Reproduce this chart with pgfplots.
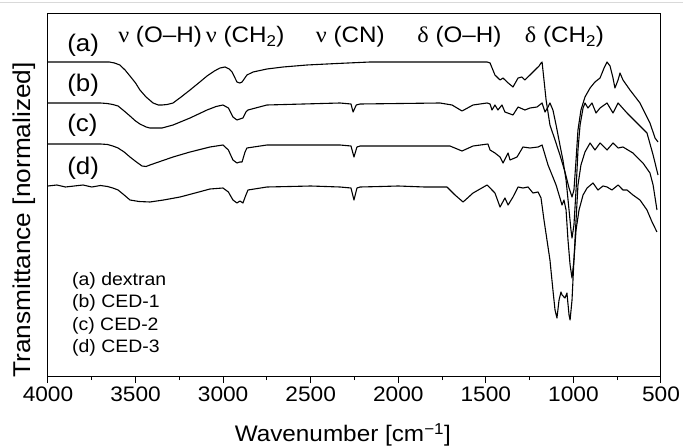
\documentclass[border=0pt]{standalone}
\usepackage{fontspec}
\setmainfont[FakeStretch=1.08]{Liberation Sans}
\newfontfamily\greek[FakeStretch=1.08]{Liberation Serif}
\usepackage{pgfplots}
\pgfplotsset{compat=1.18}
\tikzset{spec/.style={black, line width=1.1pt, line join=round}}
\begin{document}
\begin{tikzpicture}
\useasboundingbox (-48pt,-71pt) rectangle (635pt,376pt);
\draw[black!15, line width=1pt] (-48pt,373pt) -- (635pt,373pt);
\begin{axis}[
 at={(0,0)}, anchor=south west,
 width=613pt, height=362pt, scale only axis,
 xmin=500, xmax=4000, ymin=0, ymax=362,
 x dir=reverse,
 xtick={500,1000,...,4000},
 minor x tick num=1,
 ytick=\empty,
 xtick pos=bottom, tick align=outside,
 major tick length=7pt, minor tick length=4pt,
 every tick/.style={black, line width=1pt},
 axis line style={line width=1pt},
 /pgf/number format/assume math mode=true,
 /pgf/number format/1000 sep={},
 xticklabel style={font=\fontsize{21}{25}\selectfont},
 xlabel={Wavenumber [cm\textsuperscript{−1}]},
 xlabel style={font=\fontsize{22.5}{27}\selectfont, at={(axis description cs:0.481,-0.182)}, anchor=base},
 ylabel={Transmittance [normalized]},
 ylabel style={font=\fontsize{24.3}{28}\selectfont, at={(axis description cs:-0.039,0.431)}, anchor=center},
]
% (a) dextran
\addplot[spec] coordinates {
(4000,314) (3800,314) (3650,314) (3620,313) (3590,311) (3560,306) (3532,300)
(3500,293) (3475,286) (3440,279) (3400,273) (3370,271) (3349,271) (3320,271.5)
(3286,273) (3240,279) (3189,286) (3140,293) (3092,300) (3050,305) (3018,308)
(2989,309) (2965,307) (2949,304) (2921,294) (2904,293) (2892,294) (2864,301)
(2829,304) (2750,307) (2658,309) (2521,311) (2350,312.5) (2161,314)
(1762,314) (1493,314) (1476,313) (1448,301) (1419,296) (1402,298) (1379,294)
(1345,289) (1316,298) (1294,299) (1277,296) (1248,301) (1208,308) (1196,310)
(1185,313) (1179,314) (1168,296) (1156,276) (1134,251) (1105,236) (1077,221)
(1048,204) (1025,188) (1008,179) (997,186) (985,216) (974,246) (957,266)
(934,279) (905,288) (877,294) (848,298) (825,308) (808,314) (791,310)
(774,298) (763,288) (745,296) (734,303) (717,296) (677,286) (620,273)
(563,253) (534,238) (517,234)
};
% (b) CED-1
\addplot[spec] coordinates {
(4000,273) (3700,273) (3663,272.5) (3630,271.5) (3600,270) (3565,265)
(3532,260) (3500,255) (3475,252) (3440,249) (3418,248) (3349,248)
(3286,251) (3189,258) (3092,266) (3040,269.5) (3001,271) (2970,268) (2944,259)
(2921,256) (2905,257) (2887,258) (2870,264) (2858,266) (2750,271) (2333,273)
(2270,272) (2258,264) (2240,271) (2218,272)
(1762,273) (1693,271) (1636,265) (1573,271) (1493,273) (1476,272) (1465,266)
(1448,271) (1431,266) (1408,271) (1391,264) (1345,261) (1316,269) (1277,266)
(1248,268) (1208,269) (1179,273) (1162,264) (1145,269) (1134,273) (1117,266)
(1099,251) (1077,231) (1060,216) (1042,196) (1025,166) (1014,146) (1008,138)
(997,151) (985,186) (974,226) (962,251) (945,268) (934,273) (917,268)
(894,273) (871,263) (848,268) (808,273) (774,263) (745,273) (694,263)
(637,253) (580,243) (545,221) (517,201)
};
% (c) CED-2
\addplot[spec] coordinates {
(4000,232) (3700,232) (3660,231.5) (3630,230) (3600,228) (3565,224)
(3532,219) (3495,214) (3463,210) (3440,209.5) (3418,211) (3286,219)
(3189,224) (3075,229) (3001,231) (2970,226) (2944,216) (2921,213) (2905,214)
(2892,214) (2875,224) (2864,228) (2750,231) (2333,231) (2270,230) (2253,219)
(2236,229) (2218,230) (1705,230)
(1636,225) (1573,230) (1488,232) (1476,226) (1448,223) (1419,219) (1402,213)
(1373,223) (1362,216) (1322,219) (1288,229) (1248,228) (1202,229) (1179,231)
(1162,221) (1145,211) (1122,201) (1099,191) (1082,181) (1065,171) (1054,176)
(1042,166) (1031,136) (1019,111) (1008,98) (997,116) (985,156) (974,191)
(957,211) (934,224) (905,233) (877,226) (848,233) (808,226) (774,233)
(745,228) (717,229) (660,223) (603,213) (563,203) (545,191) (523,166)
};
% (d) CED-3
\addplot[spec] coordinates {
(4000,190) (3950,191) (3900,189) (3850,190) (3800,191) (3750,189) (3700,190.5)
(3660,189.5) (3630,188) (3600,186) (3565,181) (3532,176) (3480,174.5) (3418,174)
(3340,176) (3246,179) (3160,183) (3075,187) (3001,188) (2970,184) (2944,176)
(2921,173) (2904,175) (2887,173) (2870,181) (2858,186) (2750,189) (2620,189.5)
(2500,190) (2333,189)
(2270,188) (2253,176) (2236,188) (2218,189) (2100,189.5) (2000,190) (1850,189)
(1722,189) (1676,181) (1630,174) (1573,183) (1493,191) (1476,188) (1448,183)
(1419,169) (1391,178)
(1373,171) (1345,179) (1316,189) (1288,188) (1259,189) (1231,183) (1202,184)
(1185,178) (1168,156) (1151,136) (1134,116) (1117,86) (1105,66) (1094,58)
(1082,76) (1071,84) (1065,81) (1048,78) (1037,83) (1025,61) (1019,56)
(1008,76) (997,116) (985,146) (968,166) (945,181) (922,188) (888,193)
(860,186) (831,190) (808,189) (780,186) (745,191) (717,186) (694,186)
(660,181) (620,176) (580,166) (551,154) (523,144)
};
% curve labels
\begin{scope}[every node/.style={font=\fontsize{24}{28}\selectfont, anchor=base west, inner sep=0pt}]
\node at (axis cs:3891,324) {(a)};
\node at (axis cs:3891,284) {(b)};
\node at (axis cs:3891,244) {(c)};
\node at (axis cs:3891,201) {(d)};
\end{scope}
% band annotations
\begin{scope}[every node/.style={font=\fontsize{22.4}{26}\selectfont, anchor=base, inner sep=0pt}]
\node at (axis cs:3360,333) {{\greek ν} (O–H)};
\node at (axis cs:2874,333) {{\greek ν} (CH\textsubscript{2})};
\node at (axis cs:2274,333) {{\greek ν} (CN)};
\node at (axis cs:1651,333) {{\greek δ} (O–H)};
\node at (axis cs:1051,333) {{\greek δ} (CH\textsubscript{2})};
\end{scope}
% sample list
\begin{scope}[every node/.style={font=\fontsize{18}{22}\selectfont, anchor=base west, inner sep=0pt}]
\node at (axis cs:3863,90) {(a) dextran};
\node at (axis cs:3863,68) {(b) CED-1};
\node at (axis cs:3863,46) {(c) CED-2};
\node at (axis cs:3863,24) {(d) CED-3};
\end{scope}
\end{axis}
\end{tikzpicture}
\end{document}
